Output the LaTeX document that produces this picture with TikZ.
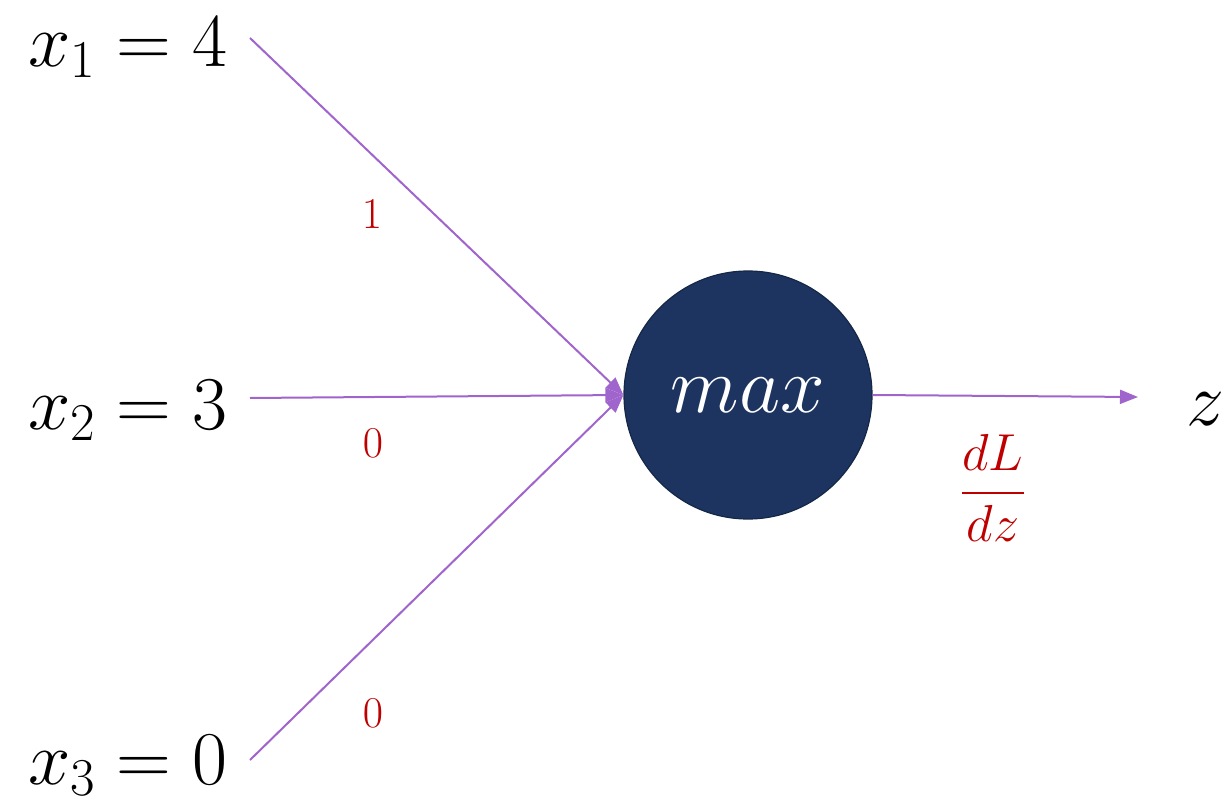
\RequirePackage{fix-cm}
\documentclass[tikz,border=0pt]{standalone}
\usepackage{amsmath}
\definecolor{edge-purple}{RGB}{160,100,205}
\definecolor{grad-red}{RGB}{190,0,0}
\definecolor{gate-navy}{RGB}{28,52,95}
\usetikzlibrary{arrows.meta, positioning}

\begin{document}
\begin{tikzpicture}[
    x=0.5pt, y=-0.5pt,
    var/.style={inner sep=0pt, font=\fontsize{38}{42}\selectfont},
    gate/.style={circle, fill=gate-navy, draw=gate-navy!75!black, line width=0.6pt, minimum size=124pt, inner sep=0pt, text=white, font=\fontsize{40}{44}\selectfont},
    grad/.style={inner sep=0pt, text=grad-red, font=\fontsize{22}{26}\selectfont},
    arrow/.style={-{Triangle[length=9pt, width=7pt]}, draw=edge-purple, line width=1pt}
]
\useasboundingbox (0,0) rectangle (1223,803);

% Eingaenge
\node[var, anchor=base east] (x1) at (228,66) {$x_1 = 4$};
\node[var, anchor=base east] (x2) at (228,429) {$x_2 = 3$};
\node[var, anchor=base east] (x3) at (228,784) {$x_3 = 0$};
\coordinate (s1) at (250,38);
\coordinate (s2) at (250,398);
\coordinate (s3) at (250,760);

% Max-Knoten
\node[gate] (max) at (748,395) {$max$};

% Ausgang
\coordinate (out) at (1138,397);
\node[var, anchor=base west] (z) at (1186,425) {$z$};

% Pfeile
\draw[arrow] (s1) -- (max.west);
\draw[arrow] (s2) -- (max.west);
\draw[arrow] (s3) -- (max.west);
\draw[arrow] (max.east) -- (out);

% Gradienten
\node[grad] (g1) at (372,214) {$1$};
\node[grad] (g2) at (373,443) {$0$};
\node[grad] (g3) at (373,713) {$0$};
\node[grad, font=\fontsize{26}{30}\selectfont] (gz) at (993,488) {$\dfrac{dL}{dz}$};

\end{tikzpicture}
\end{document}
